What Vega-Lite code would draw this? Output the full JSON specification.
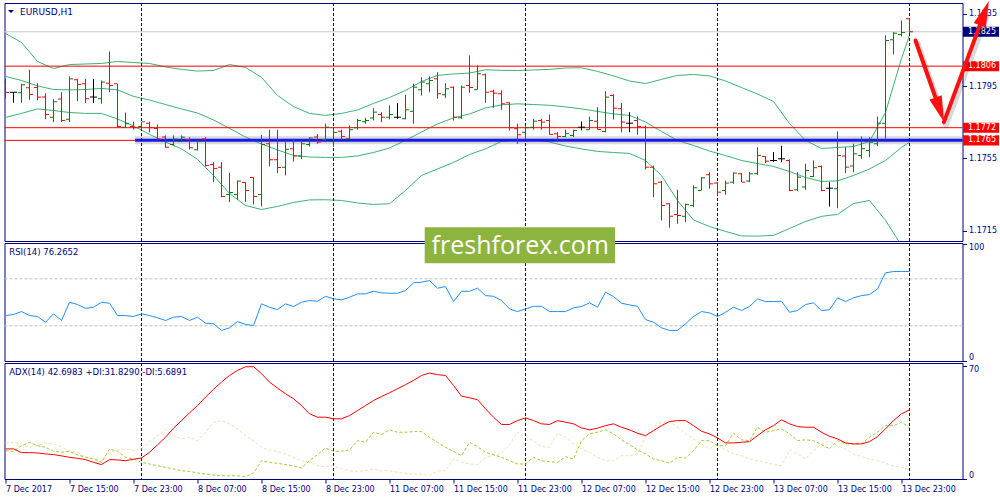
{
  "$schema": "https://vega.github.io/schema/vega-lite/v6.json",
  "background": "white",
  "padding": {"left": 2.5, "top": 0, "right": 0, "bottom": 0},
  "autosize": {"type": "pad"},
  "bounds": "flush",
  "spacing": 2,
  "config": {
    "view": {"stroke": "#000080", "strokeWidth": 1},
    "axis": {"grid": false, "domain": false, "tickColor": "#000080", "tickSize": 4, "labelColor": "#000080", "labelFont": "DejaVu Sans", "labelFontSize": 8, "labelPadding": 2}
  },
  "datasets": {
    "bars": [
      {"i":0,"o":1.1797,"h":1.1799,"l":1.1788,"c":1.17915,"rsi":38.7,"adx":18.6,"pdi":17.5,"mdi":22.1},
      {"i":1,"o":1.17916,"h":1.17918,"l":1.17858,"c":1.17916,"rsi":39.6,"adx":18.6,"pdi":17.1,"mdi":22.7},
      {"i":2,"o":1.17913,"h":1.17963,"l":1.17858,"c":1.17957,"rsi":42.1,"adx":16.3,"pdi":20.6,"mdi":21.7},
      {"i":3,"o":1.17941,"h":1.1804,"l":1.17874,"c":1.17904,"rsi":38.7,"adx":16.3,"pdi":22.7,"mdi":19.6},
      {"i":4,"o":1.17942,"h":1.17966,"l":1.17871,"c":1.17889,"rsi":37.9,"adx":16.1,"pdi":20.6,"mdi":20.6},
      {"i":5,"o":1.17889,"h":1.17911,"l":1.17767,"c":1.17793,"rsi":33.0,"adx":15.5,"pdi":19.6,"mdi":22.3},
      {"i":6,"o":1.17778,"h":1.17878,"l":1.17751,"c":1.17863,"rsi":40.2,"adx":15.1,"pdi":17.1,"mdi":21.7},
      {"i":7,"o":1.17878,"h":1.17916,"l":1.17751,"c":1.1776,"rsi":34.5,"adx":14.3,"pdi":16.5,"mdi":19.6},
      {"i":8,"o":1.17767,"h":1.18003,"l":1.17751,"c":1.1799,"rsi":50.0,"adx":13.4,"pdi":17.1,"mdi":17.5},
      {"i":9,"o":1.17985,"h":1.1799,"l":1.17867,"c":1.17959,"rsi":48.1,"adx":12.8,"pdi":14.9,"mdi":16.5},
      {"i":10,"o":1.17963,"h":1.1799,"l":1.17856,"c":1.1788,"rsi":44.9,"adx":12.0,"pdi":13.4,"mdi":13.8},
      {"i":11,"o":1.17889,"h":1.1799,"l":1.17856,"c":1.17889,"rsi":45.8,"adx":10.3,"pdi":12.4,"mdi":12.4},
      {"i":12,"o":1.1788,"h":1.17981,"l":1.17852,"c":1.17972,"rsi":50.0,"adx":8.9,"pdi":10.3,"mdi":11.3},
      {"i":13,"o":1.17966,"h":1.18141,"l":1.17916,"c":1.17953,"rsi":49.2,"adx":12.0,"pdi":18.6,"mdi":16.5},
      {"i":14,"o":1.17963,"h":1.17963,"l":1.17723,"c":1.17727,"rsi":38.7,"adx":11.8,"pdi":17.1,"mdi":18.0},
      {"i":15,"o":1.17723,"h":1.17804,"l":1.1772,"c":1.17742,"rsi":38.7,"adx":11.3,"pdi":13.4,"mdi":18.6},
      {"i":16,"o":1.17727,"h":1.17753,"l":1.17709,"c":1.1772,"rsi":37.9,"adx":12.2,"pdi":12.4,"mdi":17.5},
      {"i":17,"o":1.17727,"h":1.17753,"l":1.17709,"c":1.17753,"rsi":40.2,"adx":13.0,"pdi":10.3,"mdi":18.6},
      {"i":18,"o":1.17745,"h":1.17753,"l":1.17695,"c":1.1772,"rsi":38.7,"adx":16.5,"pdi":9.3,"mdi":22.7},
      {"i":19,"o":1.17716,"h":1.17738,"l":1.17653,"c":1.17657,"rsi":36.8,"adx":21.1,"pdi":8.2,"mdi":26.8},
      {"i":20,"o":1.17668,"h":1.17677,"l":1.17609,"c":1.17612,"rsi":34.5,"adx":25.8,"pdi":7.2,"mdi":30.4},
      {"i":21,"o":1.17627,"h":1.17677,"l":1.17622,"c":1.17657,"rsi":37.3,"adx":31.4,"pdi":6.2,"mdi":26.8},
      {"i":22,"o":1.17644,"h":1.17677,"l":1.1764,"c":1.17668,"rsi":37.9,"adx":36.1,"pdi":5.1,"mdi":24.8},
      {"i":23,"o":1.17653,"h":1.17668,"l":1.176,"c":1.17609,"rsi":34.5,"adx":40.9,"pdi":4.7,"mdi":25.8},
      {"i":24,"o":1.17598,"h":1.1765,"l":1.17594,"c":1.17646,"rsi":37.3,"adx":45.4,"pdi":3.7,"mdi":23.7},
      {"i":25,"o":1.17657,"h":1.17668,"l":1.17506,"c":1.17511,"rsi":32.2,"adx":50.6,"pdi":3.1,"mdi":28.9},
      {"i":26,"o":1.17517,"h":1.1753,"l":1.17419,"c":1.17495,"rsi":31.7,"adx":55.4,"pdi":2.5,"mdi":35.1},
      {"i":27,"o":1.17502,"h":1.1753,"l":1.17336,"c":1.1734,"rsi":26.0,"adx":59.9,"pdi":2.0,"mdi":36.1},
      {"i":28,"o":1.17351,"h":1.17471,"l":1.17309,"c":1.17362,"rsi":28.3,"adx":64.0,"pdi":2.0,"mdi":34.1},
      {"i":29,"o":1.17351,"h":1.17428,"l":1.17322,"c":1.17425,"rsi":33.6,"adx":67.1,"pdi":2.0,"mdi":31.0},
      {"i":30,"o":1.17417,"h":1.17419,"l":1.17309,"c":1.17373,"rsi":31.1,"adx":69.4,"pdi":1.4,"mdi":26.8},
      {"i":31,"o":1.17445,"h":1.17447,"l":1.17296,"c":1.1734,"rsi":30.2,"adx":69.4,"pdi":3.7,"mdi":23.7},
      {"i":32,"o":1.17351,"h":1.17681,"l":1.17285,"c":1.17627,"rsi":48.7,"adx":65.1,"pdi":11.3,"mdi":19.6},
      {"i":33,"o":1.17631,"h":1.17709,"l":1.17506,"c":1.17543,"rsi":45.8,"adx":59.9,"pdi":10.3,"mdi":17.5},
      {"i":34,"o":1.17543,"h":1.17709,"l":1.17469,"c":1.175,"rsi":43.8,"adx":56.2,"pdi":9.7,"mdi":17.1},
      {"i":35,"o":1.17502,"h":1.1765,"l":1.17456,"c":1.17601,"rsi":48.7,"adx":52.7,"pdi":8.9,"mdi":15.5},
      {"i":36,"o":1.17604,"h":1.17659,"l":1.17533,"c":1.17564,"rsi":46.4,"adx":49.6,"pdi":8.2,"mdi":13.4},
      {"i":37,"o":1.17564,"h":1.17653,"l":1.17547,"c":1.17631,"rsi":50.0,"adx":45.4,"pdi":6.8,"mdi":11.3},
      {"i":38,"o":1.17627,"h":1.17668,"l":1.17616,"c":1.17663,"rsi":51.5,"adx":40.3,"pdi":11.3,"mdi":10.3},
      {"i":39,"o":1.17668,"h":1.17685,"l":1.17631,"c":1.17641,"rsi":50.9,"adx":38.2,"pdi":15.1,"mdi":8.2},
      {"i":40,"o":1.17655,"h":1.17742,"l":1.1764,"c":1.17723,"rsi":55.1,"adx":38.2,"pdi":19.2,"mdi":7.6},
      {"i":41,"o":1.17644,"h":1.17714,"l":1.17615,"c":1.17694,"rsi":52.9,"adx":37.2,"pdi":17.1,"mdi":8.2},
      {"i":42,"o":1.17701,"h":1.17709,"l":1.17653,"c":1.17672,"rsi":52.1,"adx":37.2,"pdi":17.1,"mdi":6.2},
      {"i":43,"o":1.17659,"h":1.17732,"l":1.17655,"c":1.17709,"rsi":54.3,"adx":39.2,"pdi":18.0,"mdi":5.1},
      {"i":44,"o":1.1772,"h":1.17769,"l":1.17709,"c":1.1776,"rsi":57.2,"adx":42.3,"pdi":23.7,"mdi":4.7},
      {"i":45,"o":1.17753,"h":1.17775,"l":1.17742,"c":1.1776,"rsi":57.2,"adx":45.4,"pdi":22.7,"mdi":5.1},
      {"i":46,"o":1.17773,"h":1.17828,"l":1.1776,"c":1.17806,"rsi":59.4,"adx":48.5,"pdi":28.9,"mdi":6.2},
      {"i":47,"o":1.17793,"h":1.17806,"l":1.17751,"c":1.17778,"rsi":58.0,"adx":51.0,"pdi":27.5,"mdi":5.1},
      {"i":48,"o":1.17778,"h":1.17843,"l":1.17766,"c":1.17793,"rsi":57.7,"adx":53.3,"pdi":30.4,"mdi":5.1},
      {"i":49,"o":1.17778,"h":1.17856,"l":1.17769,"c":1.17778,"rsi":57.7,"adx":55.8,"pdi":28.9,"mdi":4.1},
      {"i":50,"o":1.17769,"h":1.17902,"l":1.17766,"c":1.17819,"rsi":60.0,"adx":58.3,"pdi":28.9,"mdi":3.5},
      {"i":51,"o":1.17811,"h":1.17963,"l":1.17742,"c":1.17944,"rsi":66.6,"adx":60.9,"pdi":29.3,"mdi":3.1},
      {"i":52,"o":1.1793,"h":1.17999,"l":1.17898,"c":1.17972,"rsi":67.1,"adx":64.0,"pdi":29.3,"mdi":3.1},
      {"i":53,"o":1.17963,"h":1.18003,"l":1.17916,"c":1.17981,"rsi":68.5,"adx":65.5,"pdi":25.8,"mdi":2.0},
      {"i":54,"o":1.1799,"h":1.18027,"l":1.1788,"c":1.17908,"rsi":62.0,"adx":64.5,"pdi":22.7,"mdi":5.1},
      {"i":55,"o":1.17902,"h":1.17966,"l":1.17885,"c":1.17935,"rsi":63.4,"adx":64.0,"pdi":19.6,"mdi":5.1},
      {"i":56,"o":1.17944,"h":1.17948,"l":1.1776,"c":1.17778,"rsi":50.6,"adx":57.8,"pdi":17.1,"mdi":12.4},
      {"i":57,"o":1.17775,"h":1.17953,"l":1.17769,"c":1.17944,"rsi":59.4,"adx":51.2,"pdi":14.4,"mdi":10.3},
      {"i":58,"o":1.17953,"h":1.18119,"l":1.17913,"c":1.17942,"rsi":59.4,"adx":50.2,"pdi":22.7,"mdi":9.3},
      {"i":59,"o":1.1793,"h":1.18064,"l":1.1793,"c":1.18018,"rsi":62.0,"adx":49.0,"pdi":20.0,"mdi":8.9},
      {"i":60,"o":1.18012,"h":1.18018,"l":1.17858,"c":1.17916,"rsi":55.7,"adx":43.4,"pdi":16.5,"mdi":13.4},
      {"i":61,"o":1.17922,"h":1.1793,"l":1.1783,"c":1.17911,"rsi":55.1,"adx":38.2,"pdi":15.1,"mdi":14.4},
      {"i":62,"o":1.17908,"h":1.17926,"l":1.17819,"c":1.17852,"rsi":51.5,"adx":33.7,"pdi":13.4,"mdi":15.9},
      {"i":63,"o":1.17858,"h":1.17861,"l":1.17705,"c":1.1772,"rsi":44.4,"adx":33.7,"pdi":11.3,"mdi":21.3},
      {"i":64,"o":1.17714,"h":1.17742,"l":1.17631,"c":1.17681,"rsi":42.1,"adx":36.1,"pdi":9.3,"mdi":28.9},
      {"i":65,"o":1.17695,"h":1.17727,"l":1.17653,"c":1.1772,"rsi":44.4,"adx":37.8,"pdi":9.3,"mdi":25.8},
      {"i":66,"o":1.17723,"h":1.17769,"l":1.17709,"c":1.17756,"rsi":46.6,"adx":36.1,"pdi":13.4,"mdi":23.7},
      {"i":67,"o":1.1776,"h":1.17769,"l":1.17709,"c":1.17751,"rsi":46.6,"adx":34.1,"pdi":11.3,"mdi":20.0},
      {"i":68,"o":1.1776,"h":1.17793,"l":1.17681,"c":1.17683,"rsi":42.1,"adx":33.7,"pdi":10.7,"mdi":19.6},
      {"i":69,"o":1.17687,"h":1.17695,"l":1.1764,"c":1.17672,"rsi":42.1,"adx":36.1,"pdi":10.3,"mdi":28.3},
      {"i":70,"o":1.17672,"h":1.17709,"l":1.17668,"c":1.17687,"rsi":42.1,"adx":35.1,"pdi":13.8,"mdi":25.8},
      {"i":71,"o":1.17677,"h":1.17709,"l":1.17668,"c":1.17705,"rsi":45.3,"adx":34.1,"pdi":12.4,"mdi":21.7},
      {"i":72,"o":1.17723,"h":1.17754,"l":1.17705,"c":1.17723,"rsi":46.4,"adx":31.6,"pdi":23.7,"mdi":18.6},
      {"i":73,"o":1.17709,"h":1.17782,"l":1.17709,"c":1.1776,"rsi":49.5,"adx":30.4,"pdi":27.9,"mdi":16.5},
      {"i":74,"o":1.17756,"h":1.17833,"l":1.17709,"c":1.1771,"rsi":45.8,"adx":31.4,"pdi":28.9,"mdi":13.4},
      {"i":75,"o":1.17699,"h":1.17922,"l":1.17694,"c":1.17889,"rsi":58.6,"adx":33.0,"pdi":30.4,"mdi":11.3},
      {"i":76,"o":1.17898,"h":1.17904,"l":1.17766,"c":1.17828,"rsi":54.9,"adx":34.1,"pdi":27.9,"mdi":11.3},
      {"i":77,"o":1.17825,"h":1.17856,"l":1.17695,"c":1.17751,"rsi":49.2,"adx":32.0,"pdi":24.2,"mdi":14.4},
      {"i":78,"o":1.17745,"h":1.17806,"l":1.17695,"c":1.17745,"rsi":47.8,"adx":30.4,"pdi":21.3,"mdi":14.4},
      {"i":79,"o":1.1776,"h":1.17782,"l":1.17681,"c":1.17727,"rsi":46.6,"adx":28.3,"pdi":18.0,"mdi":15.5},
      {"i":80,"o":1.17723,"h":1.17732,"l":1.17489,"c":1.17502,"rsi":35.3,"adx":26.8,"pdi":15.5,"mdi":25.8},
      {"i":81,"o":1.17502,"h":1.17511,"l":1.17336,"c":1.1741,"rsi":33.0,"adx":29.9,"pdi":12.4,"mdi":32.0},
      {"i":82,"o":1.17419,"h":1.17425,"l":1.17208,"c":1.1729,"rsi":28.3,"adx":33.0,"pdi":11.3,"mdi":35.1},
      {"i":83,"o":1.173,"h":1.17303,"l":1.17167,"c":1.17231,"rsi":26.0,"adx":35.5,"pdi":9.7,"mdi":35.1},
      {"i":84,"o":1.17241,"h":1.17377,"l":1.17189,"c":1.17235,"rsi":26.0,"adx":36.1,"pdi":13.4,"mdi":32.0},
      {"i":85,"o":1.17231,"h":1.173,"l":1.17198,"c":1.17296,"rsi":31.7,"adx":36.1,"pdi":13.0,"mdi":28.3},
      {"i":86,"o":1.1729,"h":1.17401,"l":1.17281,"c":1.17388,"rsi":37.9,"adx":33.0,"pdi":17.5,"mdi":24.8},
      {"i":87,"o":1.17373,"h":1.17447,"l":1.17373,"c":1.17443,"rsi":42.1,"adx":29.5,"pdi":23.7,"mdi":21.7},
      {"i":88,"o":1.1746,"h":1.17474,"l":1.17383,"c":1.1741,"rsi":41.0,"adx":27.9,"pdi":23.7,"mdi":18.6},
      {"i":89,"o":1.17414,"h":1.17419,"l":1.17346,"c":1.17364,"rsi":37.9,"adx":25.4,"pdi":20.6,"mdi":21.7},
      {"i":90,"o":1.17373,"h":1.17428,"l":1.1735,"c":1.17414,"rsi":41.5,"adx":22.3,"pdi":20.6,"mdi":18.0},
      {"i":91,"o":1.17419,"h":1.17474,"l":1.1741,"c":1.17469,"rsi":45.8,"adx":22.3,"pdi":28.3,"mdi":15.5},
      {"i":92,"o":1.17465,"h":1.17469,"l":1.17419,"c":1.17419,"rsi":43.0,"adx":22.7,"pdi":24.2,"mdi":14.4},
      {"i":93,"o":1.17425,"h":1.17474,"l":1.17419,"c":1.17465,"rsi":46.4,"adx":23.1,"pdi":23.7,"mdi":12.4},
      {"i":94,"o":1.17465,"h":1.17612,"l":1.1746,"c":1.17567,"rsi":52.9,"adx":26.8,"pdi":32.0,"mdi":11.3},
      {"i":95,"o":1.17561,"h":1.17563,"l":1.17524,"c":1.17535,"rsi":50.6,"adx":30.4,"pdi":28.9,"mdi":10.3},
      {"i":96,"o":1.17539,"h":1.17585,"l":1.1753,"c":1.17539,"rsi":50.6,"adx":33.0,"pdi":29.9,"mdi":8.9},
      {"i":97,"o":1.17548,"h":1.1762,"l":1.1753,"c":1.17548,"rsi":50.9,"adx":36.6,"pdi":31.0,"mdi":8.2},
      {"i":98,"o":1.17539,"h":1.17545,"l":1.17369,"c":1.17373,"rsi":41.5,"adx":34.1,"pdi":27.9,"mdi":18.0},
      {"i":99,"o":1.17377,"h":1.17474,"l":1.17369,"c":1.17447,"rsi":43.0,"adx":32.4,"pdi":23.7,"mdi":15.5},
      {"i":100,"o":1.17392,"h":1.17521,"l":1.17377,"c":1.17484,"rsi":48.1,"adx":32.0,"pdi":24.2,"mdi":12.4},
      {"i":101,"o":1.17451,"h":1.17539,"l":1.17447,"c":1.17499,"rsi":49.5,"adx":32.0,"pdi":23.7,"mdi":17.5},
      {"i":102,"o":1.17506,"h":1.17511,"l":1.17369,"c":1.17373,"rsi":43.0,"adx":28.9,"pdi":21.3,"mdi":21.7},
      {"i":103,"o":1.17386,"h":1.17419,"l":1.17285,"c":1.17386,"rsi":43.6,"adx":26.4,"pdi":18.6,"mdi":23.3},
      {"i":104,"o":1.17383,"h":1.17699,"l":1.17275,"c":1.17567,"rsi":53.8,"adx":24.8,"pdi":23.7,"mdi":20.6},
      {"i":105,"o":1.17563,"h":1.17612,"l":1.17469,"c":1.17502,"rsi":50.6,"adx":22.3,"pdi":21.7,"mdi":18.6},
      {"i":106,"o":1.17508,"h":1.17631,"l":1.17474,"c":1.17576,"rsi":53.8,"adx":21.7,"pdi":21.7,"mdi":15.5},
      {"i":107,"o":1.17567,"h":1.17672,"l":1.17548,"c":1.17604,"rsi":55.7,"adx":21.7,"pdi":21.7,"mdi":13.8},
      {"i":108,"o":1.17594,"h":1.17668,"l":1.17557,"c":1.1764,"rsi":56.6,"adx":23.1,"pdi":25.8,"mdi":12.4},
      {"i":109,"o":1.17631,"h":1.17782,"l":1.17618,"c":1.17745,"rsi":61.4,"adx":26.2,"pdi":28.9,"mdi":11.3},
      {"i":110,"o":1.17745,"h":1.1823,"l":1.17659,"c":1.18202,"rsi":75.1,"adx":31.0,"pdi":33.0,"mdi":9.7},
      {"i":111,"o":1.18206,"h":1.18248,"l":1.18125,"c":1.18242,"rsi":76.2,"adx":36.1,"pdi":33.0,"mdi":8.2},
      {"i":112,"o":1.18235,"h":1.18313,"l":1.18224,"c":1.18246,"rsi":76.2,"adx":40.3,"pdi":35.1,"mdi":7.2},
      {"i":113,"o":1.18322,"h":1.18325,"l":1.18239,"c":1.1825,"rsi":76.27,"adx":42.7,"pdi":31.83,"mdi":5.69}
    ],
    "bb": [
      {"i":0,"up":1.18241,"mid":1.18003,"lo":1.17777},
      {"i":2,"up":1.18191,"mid":1.17981,"lo":1.17799},
      {"i":4,"up":1.18086,"mid":1.17951,"lo":1.17824},
      {"i":6,"up":1.18047,"mid":1.17931,"lo":1.17815},
      {"i":8,"up":1.18069,"mid":1.17929,"lo":1.17804},
      {"i":10,"up":1.18072,"mid":1.17931,"lo":1.17799},
      {"i":12,"up":1.18075,"mid":1.17937,"lo":1.17799},
      {"i":14,"up":1.18086,"mid":1.17929,"lo":1.17768},
      {"i":16,"up":1.1808,"mid":1.17893,"lo":1.1773},
      {"i":18,"up":1.18075,"mid":1.17873,"lo":1.17683},
      {"i":20,"up":1.18056,"mid":1.17848,"lo":1.17641},
      {"i":22,"up":1.18042,"mid":1.17824,"lo":1.17603},
      {"i":24,"up":1.18033,"mid":1.17801,"lo":1.17545},
      {"i":26,"up":1.18036,"mid":1.17763,"lo":1.17456},
      {"i":28,"up":1.18069,"mid":1.17716,"lo":1.17357},
      {"i":30,"up":1.18053,"mid":1.17669,"lo":1.1729},
      {"i":32,"up":1.17998,"mid":1.1763,"lo":1.17268},
      {"i":34,"up":1.17898,"mid":1.17597,"lo":1.17285},
      {"i":36,"up":1.17837,"mid":1.17567,"lo":1.17307},
      {"i":38,"up":1.17799,"mid":1.17558,"lo":1.17321},
      {"i":40,"up":1.17788,"mid":1.17556,"lo":1.17322},
      {"i":42,"up":1.17799,"mid":1.17556,"lo":1.17318},
      {"i":44,"up":1.17818,"mid":1.17564,"lo":1.17304},
      {"i":46,"up":1.17854,"mid":1.17583,"lo":1.17296},
      {"i":48,"up":1.17887,"mid":1.17608,"lo":1.173},
      {"i":50,"up":1.17926,"mid":1.1765,"lo":1.17373},
      {"i":52,"up":1.17975,"mid":1.17696,"lo":1.17456},
      {"i":54,"up":1.18009,"mid":1.17741,"lo":1.17492},
      {"i":56,"up":1.18017,"mid":1.17774,"lo":1.17528},
      {"i":58,"up":1.18022,"mid":1.17796,"lo":1.17572},
      {"i":60,"up":1.1804,"mid":1.17829,"lo":1.17603},
      {"i":62,"up":1.18037,"mid":1.17846,"lo":1.17644},
      {"i":64,"up":1.18036,"mid":1.17852,"lo":1.17654},
      {"i":66,"up":1.18039,"mid":1.17848,"lo":1.17655},
      {"i":68,"up":1.18042,"mid":1.17844,"lo":1.17641},
      {"i":70,"up":1.1805,"mid":1.17835,"lo":1.17619},
      {"i":72,"up":1.18051,"mid":1.17824,"lo":1.17603},
      {"i":74,"up":1.18031,"mid":1.1781,"lo":1.17589},
      {"i":76,"up":1.18006,"mid":1.17796,"lo":1.17583},
      {"i":78,"up":1.17978,"mid":1.17788,"lo":1.17578},
      {"i":80,"up":1.17964,"mid":1.17752,"lo":1.17539},
      {"i":82,"up":1.17987,"mid":1.17699,"lo":1.17456},
      {"i":84,"up":1.18009,"mid":1.1765,"lo":1.17318},
      {"i":86,"up":1.18014,"mid":1.17622,"lo":1.1721},
      {"i":88,"up":1.18006,"mid":1.17591,"lo":1.17174},
      {"i":90,"up":1.17978,"mid":1.17566,"lo":1.17147},
      {"i":92,"up":1.17942,"mid":1.17539,"lo":1.17122},
      {"i":94,"up":1.17906,"mid":1.17522,"lo":1.17121},
      {"i":96,"up":1.17865,"mid":1.17506,"lo":1.17125},
      {"i":98,"up":1.17743,"mid":1.17478,"lo":1.17163},
      {"i":100,"up":1.1765,"mid":1.17445,"lo":1.17202},
      {"i":102,"up":1.17605,"mid":1.17423,"lo":1.1723},
      {"i":104,"up":1.17611,"mid":1.17426,"lo":1.17241},
      {"i":106,"up":1.17616,"mid":1.17456,"lo":1.17301},
      {"i":108,"up":1.17644,"mid":1.17492,"lo":1.17318},
      {"i":110,"up":1.17804,"mid":1.17539,"lo":1.17208},
      {"i":112,"up":1.18103,"mid":1.17611,"lo":1.17069},
      {"i":113,"up":1.1823,"mid":1.1764,"lo":1.17053}
    ],
    "levels": [
      {"price": 1.1825, "kind": "bid"},
      {"price": 1.1806, "kind": "level"},
      {"price": 1.1772, "kind": "level"},
      {"price": 1.1765, "kind": "level"}
    ],
    "days": [{"i": 17}, {"i": 41}, {"i": 65}, {"i": 89}, {"i": 113}],
    "rsiLevels": [{"v": 30}, {"v": 70}],
    "arrows": [
      {"x": 113.75, "y": 1.18202, "x2": 116.79, "y2": 1.17819},
      {"x": 117.3, "y": 1.17751, "x2": 122.36, "y2": 1.18353}
    ],
    "one": [{}]
  },
  "vconcat": [
    {
      "width": 958,
      "height": 238,
      "layer": [
        {
          "data": {"name": "bb"},
          "mark": {"type": "line", "color": "#3CB371", "strokeWidth": 1, "clip": true},
          "encoding": {
            "x": {"field": "i", "type": "quantitative", "scale": {"domain": [-0.125, 119.625], "nice": false, "zero": false}, "axis": null, "title": null},
            "y": {"field": "up", "type": "quantitative", "scale": {"domain": [1.17094, 1.18409], "nice": false, "zero": false}, "title": null,
              "axis": {"orient": "right", "values": [1.1715, 1.1735, 1.1755, 1.1775, 1.1795, 1.1815, 1.1835], "format": ".4f", "title": null}}
          }
        },
        {
          "data": {"name": "bb"},
          "mark": {"type": "line", "color": "#3CB371", "strokeWidth": 1, "clip": true},
          "encoding": {
            "x": {"field": "i", "type": "quantitative", "axis": null, "title": null},
            "y": {"field": "mid", "type": "quantitative", "title": null}
          }
        },
        {
          "data": {"name": "bb"},
          "mark": {"type": "line", "color": "#3CB371", "strokeWidth": 1, "clip": true},
          "encoding": {
            "x": {"field": "i", "type": "quantitative", "axis": null, "title": null},
            "y": {"field": "lo", "type": "quantitative", "title": null}
          }
        },
        {
          "data": {"name": "levels"},
          "mark": {"type": "rule", "strokeWidth": 1},
          "encoding": {
            "y": {"field": "price", "type": "quantitative", "title": null},
            "color": {"condition": {"test": "datum.kind === 'bid'", "value": "#C8C8C8"}, "value": "#FF0000"}
          }
        },
        {
          "data": {"name": "levels"},
          "transform": [{"filter": "datum.price === 1.1765"}],
          "mark": {"type": "rule", "strokeWidth": 8, "color": "#7a7a90", "opacity": 0.3},
          "encoding": {
            "x": {"datum": 16.2, "axis": null, "title": null},
            "x2": {"datum": 119.625},
            "y": {"field": "price", "type": "quantitative", "title": null}
          }
        },
        {
          "data": {"name": "levels"},
          "transform": [{"filter": "datum.price === 1.1765"}],
          "mark": {"type": "rule", "strokeWidth": 3, "color": "#1818e8"},
          "encoding": {
            "x": {"datum": 16.2, "axis": null, "title": null},
            "x2": {"datum": 119.625},
            "y": {"field": "price", "type": "quantitative", "title": null}
          }
        },
        {
          "data": {"name": "days"},
          "mark": {"type": "rule", "color": "#000080", "strokeWidth": 1, "strokeDash": [3, 2]},
          "encoding": {
            "x": {"field": "i", "type": "quantitative", "axis": null, "title": null}
          }
        },
        {
          "data": {"name": "bars"},
          "mark": {"type": "rule", "strokeWidth": 1},
          "encoding": {
            "x": {"field": "i", "type": "quantitative", "axis": null, "title": null},
            "y": {"field": "l", "type": "quantitative", "title": null},
            "y2": {"field": "h"},
            "color": {"condition": [{"test": "datum.c > datum.o", "value": "#008000"}, {"test": "datum.c < datum.o", "value": "#FF0000"}], "value": "#000000"}
          }
        },
        {
          "data": {"name": "bars"},
          "mark": {"type": "tick", "orient": "horizontal", "size": 3, "thickness": 1, "xOffset": -2, "clip": true, "opacity": 1},
          "encoding": {
            "x": {"field": "i", "type": "quantitative", "axis": null, "title": null},
            "y": {"field": "o", "type": "quantitative", "title": null},
            "color": {"condition": [{"test": "datum.c > datum.o", "value": "#008000"}, {"test": "datum.c < datum.o", "value": "#FF0000"}], "value": "#000000"}
          }
        },
        {
          "data": {"name": "bars"},
          "mark": {"type": "tick", "orient": "horizontal", "size": 3, "thickness": 1, "xOffset": 2, "opacity": 1},
          "encoding": {
            "x": {"field": "i", "type": "quantitative", "axis": null, "title": null},
            "y": {"field": "c", "type": "quantitative", "title": null},
            "color": {"condition": [{"test": "datum.c > datum.o", "value": "#008000"}, {"test": "datum.c < datum.o", "value": "#FF0000"}], "value": "#000000"}
          }
        },
        {
          "data": {"name": "levels"},
          "mark": {"type": "point", "shape": "M-1,-0.28H1V0.28H-1Z", "size": 1296, "filled": true, "opacity": 1, "strokeWidth": 0},
          "encoding": {
            "x": {"datum": 121.94, "axis": null, "title": null},
            "y": {"field": "price", "type": "quantitative", "title": null},
            "color": {"condition": {"test": "datum.kind === 'bid'", "value": "#000080"}, "value": "#FF0000"}
          }
        },
        {
          "data": {"name": "levels"},
          "mark": {"type": "text", "color": "white", "font": "DejaVu Sans", "fontSize": 8, "align": "center", "baseline": "middle"},
          "encoding": {
            "x": {"datum": 122.06, "axis": null, "title": null},
            "y": {"field": "price", "type": "quantitative", "title": null},
            "text": {"field": "price", "format": ".4f"}
          }
        },
        {
          "data": {"name": "arrows"},
          "mark": {"type": "rule", "strokeWidth": 6, "color": "#000000", "opacity": 0.15, "strokeCap": "round", "xOffset": 2, "x2Offset": 2, "yOffset": 3, "y2Offset": 3},
          "encoding": {
            "x": {"field": "x", "type": "quantitative", "axis": null, "title": null},
            "x2": {"field": "x2"},
            "y": {"field": "y", "type": "quantitative", "title": null},
            "y2": {"field": "y2"}
          }
        },
        {
          "data": {"name": "arrows"},
          "mark": {"type": "rule", "strokeWidth": 4, "color": "#FF1010", "strokeCap": "round"},
          "encoding": {
            "x": {"field": "x", "type": "quantitative", "axis": null, "title": null},
            "x2": {"field": "x2"},
            "y": {"field": "y", "type": "quantitative", "title": null},
            "y2": {"field": "y2"}
          }
        },
        {
          "data": {"name": "one"},
          "mark": {"type": "point", "shape": "M0,-1L0.5,1L-0.5,1Z", "size": 676, "filled": true, "opacity": 1, "color": "#FF1010", "angle": 160.9},
          "encoding": {
            "x": {"datum": 116.79, "axis": null, "title": null},
            "y": {"datum": 1.17819, "title": null}
          }
        },
        {
          "data": {"name": "one"},
          "mark": {"type": "point", "shape": "M0,-1L0.5,1L-0.5,1Z", "size": 676, "filled": true, "opacity": 1, "color": "#FF1010", "angle": 20.4},
          "encoding": {
            "x": {"datum": 122.36, "axis": null, "title": null},
            "y": {"datum": 1.18353, "title": null}
          }
        },
        {
          "data": {"name": "one"},
          "mark": {"type": "point", "shape": "M-1,-0.5H1L0,0.5Z", "size": 36, "filled": true, "opacity": 1, "color": "#000080"},
          "encoding": {
            "x": {"datum": 0.69, "axis": null, "title": null},
            "y": {"datum": 1.18362, "title": null}
          }
        },
        {
          "data": {"name": "one"},
          "mark": {"type": "text", "align": "left", "baseline": "middle", "font": "DejaVu Sans", "fontSize": 9, "color": "#000080"},
          "encoding": {
            "x": {"datum": 1.81, "axis": null, "title": null},
            "y": {"datum": 1.18362, "title": null},
            "text": {"value": "EURUSD,H1"}
          }
        }
      ]
    },
    {
      "width": 958,
      "height": 118,
      "layer": [
        {
          "data": {"name": "rsiLevels"},
          "mark": {"type": "rule", "color": "#C0C0C0", "strokeWidth": 1, "strokeDash": [3, 2]},
          "encoding": {
            "y": {"field": "v", "type": "quantitative", "scale": {"domain": [0, 100.5], "nice": false, "zero": false}, "title": null,
              "axis": {"orient": "right", "values": [0, 30, 70, 100], "labelFlush": true, "title": null}}
          }
        },
        {
          "data": {"name": "days"},
          "mark": {"type": "rule", "color": "#000080", "strokeWidth": 1, "strokeDash": [3, 2]},
          "encoding": {
            "x": {"field": "i", "type": "quantitative", "scale": {"domain": [-0.125, 119.625], "nice": false, "zero": false}, "axis": null, "title": null}
          }
        },
        {
          "data": {"name": "bars"},
          "mark": {"type": "line", "color": "#1E90FF", "strokeWidth": 1},
          "encoding": {
            "x": {"field": "i", "type": "quantitative", "axis": null, "title": null},
            "y": {"field": "rsi", "type": "quantitative", "title": null}
          }
        },
        {
          "data": {"name": "one"},
          "mark": {"type": "text", "align": "left", "baseline": "middle", "font": "DejaVu Sans", "fontSize": 8.5, "color": "#000080"},
          "encoding": {
            "x": {"datum": 0.475, "axis": null, "title": null},
            "y": {"datum": 92.7, "title": null},
            "text": {"value": "RSI(14) 76.2652"}
          }
        }
      ]
    },
    {
      "width": 958,
      "height": 116,
      "layer": [
        {
          "data": {"name": "days"},
          "mark": {"type": "rule", "color": "#000080", "strokeWidth": 1, "strokeDash": [3, 2]},
          "encoding": {
            "x": {"field": "i", "type": "quantitative", "scale": {"domain": [-0.125, 119.625], "nice": false, "zero": false}, "title": null,
              "axis": {"orient": "bottom", "values": [0, 8, 16, 24, 32, 40, 48, 56, 64, 72, 80, 88, 96, 104, 112], "labelAlign": "left", "labelPadding": 2, "labelOverlap": false, "labelFlush": false, "labelBound": false, "title": null,
                "labelExpr": "['7 Dec 2017','7 Dec 15:00','7 Dec 23:00','8 Dec 07:00','8 Dec 15:00','8 Dec 23:00','11 Dec 07:00','11 Dec 15:00','11 Dec 23:00','12 Dec 07:00','12 Dec 15:00','12 Dec 23:00','13 Dec 07:00','13 Dec 15:00','13 Dec 23:00'][round(datum.value / 8)]"}}
          }
        },
        {
          "data": {"name": "bars"},
          "mark": {"type": "line", "color": "#F5DEB3", "strokeWidth": 1, "strokeDash": [3, 2]},
          "encoding": {
            "x": {"field": "i", "type": "quantitative", "title": null},
            "y": {"field": "mdi", "type": "quantitative", "scale": {"domain": [0, 71.7], "nice": false, "zero": false}, "title": null,
              "axis": {"orient": "right", "values": [0, 70], "labelFlush": 5, "title": null}}
          }
        },
        {
          "data": {"name": "bars"},
          "mark": {"type": "line", "color": "#9ACD32", "strokeWidth": 1, "strokeDash": [3, 2]},
          "encoding": {
            "x": {"field": "i", "type": "quantitative", "title": null},
            "y": {"field": "pdi", "type": "quantitative", "title": null}
          }
        },
        {
          "data": {"name": "bars"},
          "mark": {"type": "line", "color": "#FF0000", "strokeWidth": 1},
          "encoding": {
            "x": {"field": "i", "type": "quantitative", "title": null},
            "y": {"field": "adx", "type": "quantitative", "title": null}
          }
        },
        {
          "data": {"name": "one"},
          "mark": {"type": "text", "align": "left", "baseline": "middle", "font": "DejaVu Sans", "fontSize": 8.5, "color": "#000080"},
          "encoding": {
            "x": {"datum": 0.475, "title": null},
            "y": {"datum": 66.0, "title": null},
            "text": {"value": "ADX(14) 42.6983 +DI:31.8290 -DI:5.6891"}
          }
        },
        {
          "data": {"name": "one"},
          "mark": {"type": "rect", "color": "#8DB43E", "opacity": 1},
          "encoding": {
            "x": {"datum": 52.4, "title": null},
            "x2": {"datum": 76.2},
            "y": {"datum": 133.4, "title": null},
            "y2": {"datum": 155.6}
          }
        },
        {
          "data": {"name": "one"},
          "mark": {"type": "text", "align": "center", "baseline": "alphabetic", "font": "Open Sans", "fontSize": 25, "color": "white"},
          "encoding": {
            "x": {"datum": 64.35, "title": null},
            "y": {"datum": 139.2, "title": null},
            "text": {"value": "freshforex.com"}
          }
        }
      ]
    }
  ]
}
